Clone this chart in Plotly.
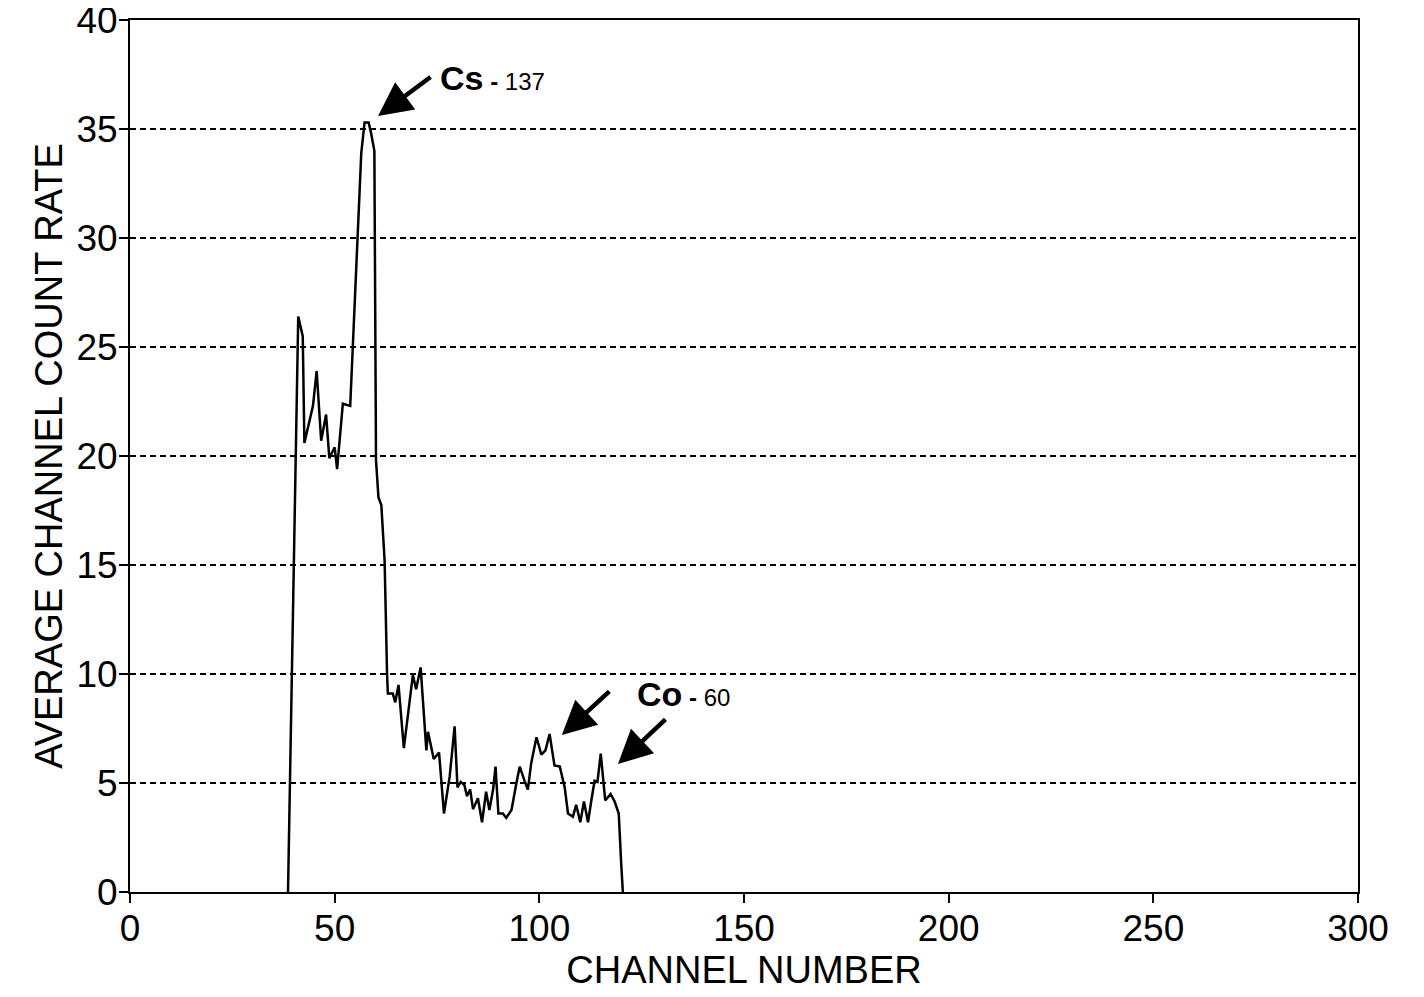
import plotly.graph_objects as go

# Channel number (x) and average channel count rate (y)
channel = [38.6, 39.2, 40.0, 41.1, 42.2, 42.6, 44.7, 45.6, 46.7, 47.9, 48.7, 50.0, 50.6,
           52.0, 53.8, 54.4, 55.5, 56.5, 57.3, 58.3, 58.9, 59.7, 60.1, 60.7, 61.4, 62.2,
           62.8, 63.0, 64.2, 64.8, 65.6, 66.9, 69.1, 69.9, 71.0, 72.0, 72.4, 72.8, 74.2,
           75.5, 76.7, 78.1, 79.3, 80.0, 80.8, 81.7, 82.3, 83.1, 83.8, 85.0, 86.0, 87.0,
           87.8, 88.7, 89.3, 90.0, 91.1, 91.9, 93.2, 94.4, 95.2, 96.4, 97.2, 98.0, 99.3,
           100.5, 101.5, 102.5, 103.7, 105.0, 106.2, 107.0, 108.2, 109.0, 110.0, 110.9,
           111.9, 112.7, 113.5, 114.2, 115.0, 116.1, 117.4, 118.4, 119.4, 120.0, 120.4]
count_rate = [0.0, 6.8, 15.0, 26.4, 25.5, 20.6, 22.3, 23.9, 20.7, 21.9, 19.9, 20.4, 19.4,
              22.4, 22.3, 25.0, 29.9, 33.9, 35.3, 35.3, 34.8, 34.0, 19.8, 18.1, 17.75, 15.2,
              10.0, 9.1, 9.1, 8.7, 9.5, 6.6, 9.95, 9.3, 10.3, 7.35, 6.5, 7.35, 6.1,
              6.4, 3.6, 5.3, 7.6, 4.8, 5.05, 4.9, 4.4, 4.7, 3.8, 4.3, 3.2, 4.6,
              3.76, 4.7, 5.75, 3.6, 3.6, 3.4, 3.76, 5.0, 5.75, 5.1, 4.7, 5.9, 7.1,
              6.3, 6.5, 7.25, 5.8, 5.75, 4.8, 3.6, 3.45, 4.0, 3.2, 4.15,
              3.2, 4.2, 5.1, 5.05, 6.35, 4.2, 4.5, 4.15, 3.6, 1.3, 0.0]

x_ticks = [0, 50, 100, 150, 200, 250, 300]
y_ticks = [0, 5, 10, 15, 20, 25, 30, 35, 40]

FONT = "Liberation Sans, Arial, Helvetica, sans-serif"

fig = go.Figure()
fig.add_trace(go.Scatter(x=channel, y=count_rate, mode="lines",
                         line=dict(color="black", width=2.5), showlegend=False))

arrow_style = dict(showarrow=True, arrowhead=2, arrowsize=1.5, arrowwidth=4.5,
                   arrowcolor="black", xref="x", yref="y", axref="pixel", ayref="pixel")
# Cs-137 arrow and label
fig.add_annotation(x=60.6, y=35.6, ax=54, ay=-40, text="", **arrow_style)
fig.add_annotation(x=75.2, y=37.34, xanchor="left", yanchor="middle", showarrow=False,
                   text="<b>Cs</b><span style='font-size:24px'> <b>-</b> 137</span>",
                   font=dict(family=FONT, size=34, color="black"))
# Co-60 arrows and label
fig.add_annotation(x=105.5, y=7.2, ax=49, ay=-45, text="", **arrow_style)
fig.add_annotation(x=119.2, y=5.87, ax=49, ay=-46, text="", **arrow_style)
fig.add_annotation(x=123.4, y=9.1, xanchor="left", yanchor="middle", showarrow=False,
                   text="<b>Co</b><span style='font-size:24px'> <b>-</b> 60</span>",
                   font=dict(family=FONT, size=34, color="black"))

# page body has an 8px default margin, so the figure is shrunk by 8px and margins compensated
fig.update_layout(
    width=1416, height=989,
    margin=dict(l=122, r=66, t=12, b=105, autoexpand=False),
    paper_bgcolor="white", plot_bgcolor="white",
    font=dict(family=FONT, size=37, color="black"),
)
fig.update_xaxes(
    range=[0, 300], tickvals=x_ticks, ticktext=[str(v) for v in x_ticks],
    showgrid=False, zeroline=False, showline=True, linecolor="black", linewidth=2,
    mirror=True, ticks="outside", ticklen=9, tickwidth=2, tickcolor="black",
    automargin=False, ticklabelstandoff=-6, ticklabeloverflow="allow",
    tickfont=dict(size=37), title=dict(text="CHANNEL NUMBER", font=dict(size=38), standoff=3),
)
fig.update_yaxes(
    range=[0, 40], tickvals=y_ticks, ticktext=[str(v) for v in y_ticks],
    showgrid=True, gridcolor="black", gridwidth=2, griddash="6px,4px",
    zeroline=False, showline=True, linecolor="black", linewidth=2,
    mirror=True, ticks="outside", ticklen=9, tickwidth=2, tickcolor="black",
    automargin=False, ticklabelstandoff=-6, ticklabeloverflow="allow",
    tickfont=dict(size=37), title=dict(text="AVERAGE CHANNEL COUNT RATE", font=dict(size=38), standoff=2),
)

fig.write_html("out.html")
